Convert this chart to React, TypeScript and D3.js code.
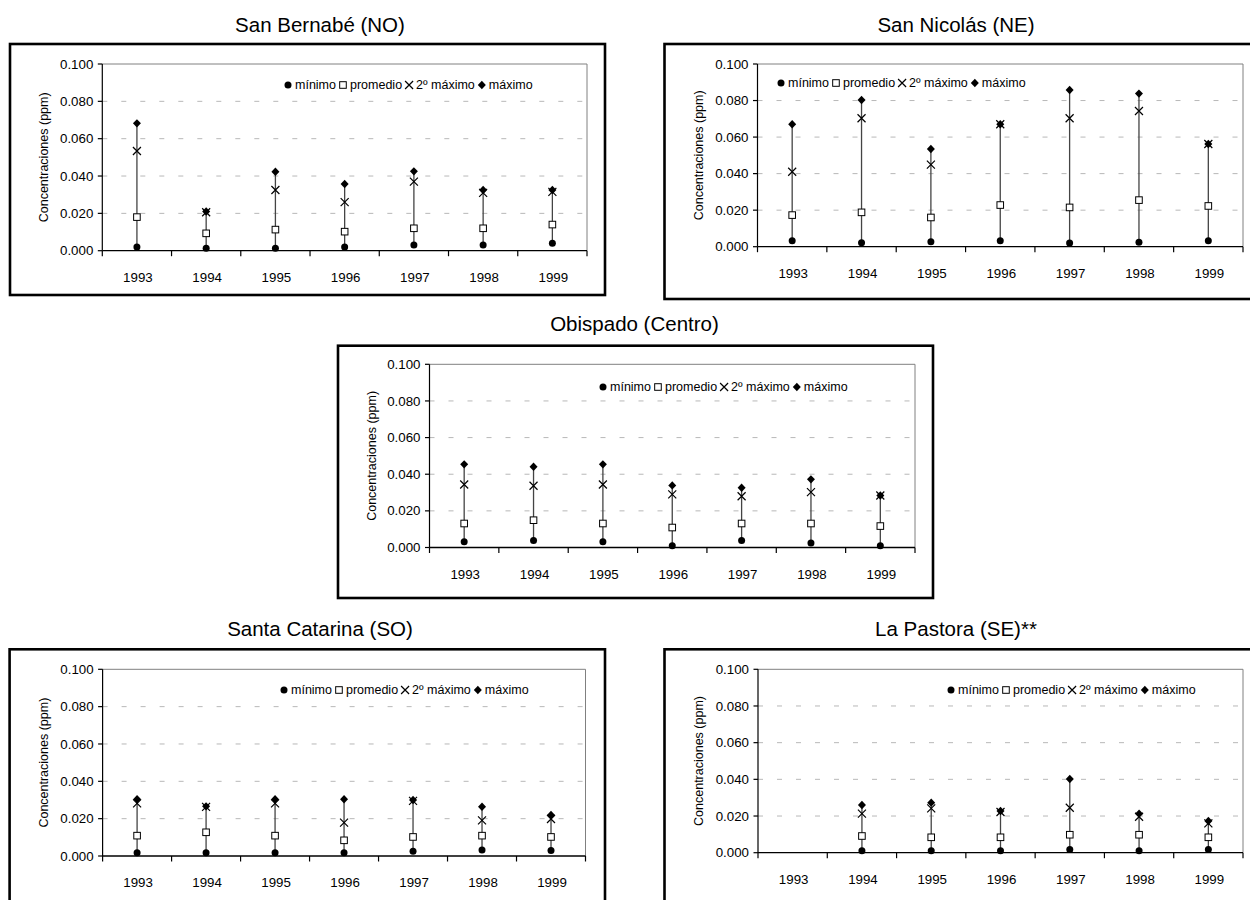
import React from "react";
import * as d3 from "d3";

const years = ["1993", "1994", "1995", "1996", "1997", "1998", "1999"];
const yTicks = [0, 0.02, 0.04, 0.06, 0.08, 0.1];
const legendLabels = ["mínimo", "promedio", "2º máximo", "máximo"];
const stationNames = ["San Bernabé (NO)", "San Nicolás (NE)", "Obispado (Centro)", "Santa Catarina (SO)", "La Pastora (SE)**"];

// San Bernabé (NO)
const sbMin = [0.002, 0.0013, 0.0013, 0.002, 0.003, 0.003, 0.004];
const sbProm = [0.018, 0.0093, 0.0113, 0.0102, 0.012, 0.012, 0.014];
const sb2Max = [0.0534, 0.0206, 0.0325, 0.026, 0.037, 0.031, 0.0315];
const sbMax = [0.0682, 0.021, 0.0423, 0.0357, 0.0425, 0.0325, 0.0325];

// San Nicolás (NE)
const snMin = [0.0033, 0.0022, 0.0027, 0.0033, 0.002, 0.0025, 0.0033];
const snProm = [0.0173, 0.0188, 0.016, 0.0228, 0.0215, 0.0255, 0.0223];
const sn2Max = [0.041, 0.0703, 0.0449, 0.067, 0.0703, 0.0743, 0.0562];
const snMax = [0.067, 0.0803, 0.0535, 0.067, 0.0858, 0.0838, 0.0562];

// Obispado (Centro)
const obMin = [0.0031, 0.0038, 0.0031, 0.0009, 0.0038, 0.0024, 0.0009];
const obProm = [0.0131, 0.0149, 0.0131, 0.0109, 0.0131, 0.0131, 0.0117];
const ob2Max = [0.0344, 0.0337, 0.0344, 0.029, 0.028, 0.0302, 0.0284];
const obMax = [0.0454, 0.0441, 0.0454, 0.0339, 0.0326, 0.0372, 0.0284];

// Santa Catarina (SO)
const scMin = [0.0018, 0.0018, 0.0018, 0.0018, 0.0025, 0.0032, 0.003];
const scProm = [0.0109, 0.0127, 0.0109, 0.0084, 0.0102, 0.0109, 0.0102];
const sc2Max = [0.0282, 0.0263, 0.0282, 0.0179, 0.0295, 0.0191, 0.0198];
const scMax = [0.0304, 0.0266, 0.0304, 0.0304, 0.03, 0.0264, 0.022];

// La Pastora (SE)**
const lpMin = [null, 0.0011, 0.0011, 0.0011, 0.0018, 0.0011, 0.0018];
const lpProm = [null, 0.0091, 0.0084, 0.0084, 0.0098, 0.0098, 0.0084];
const lp2Max = [null, 0.0213, 0.0242, 0.0222, 0.0245, 0.0196, 0.016];
const lpMax = [null, 0.026, 0.0273, 0.0227, 0.0402, 0.0213, 0.0173];

type Panel = {
  name: string;
  min: (number | null)[];
  prom: (number | null)[];
  max2: (number | null)[];
  max: (number | null)[];
  frame: [number, number, number, number];
  plot: [number, number, number, number];
  title: [number, number];
  legend: [number, number];
};

const panels: Panel[] = [
  { name: stationNames[0], min: sbMin, prom: sbProm, max2: sb2Max, max: sbMax,
    frame: [10, 44, 605, 295], plot: [102.3, 64, 587, 250.7], title: [320, 32], legend: [288, 85] },
  { name: stationNames[1], min: snMin, prom: snProm, max2: sn2Max, max: snMax,
    frame: [664.5, 44, 1262, 299], plot: [757.5, 64, 1243, 246.7], title: [956, 32], legend: [781, 83] },
  { name: stationNames[2], min: obMin, prom: obProm, max2: ob2Max, max: obMax,
    frame: [338, 345.7, 933, 598], plot: [429.5, 364.3, 915, 547.5], title: [634.5, 331], legend: [603, 387] },
  { name: stationNames[3], min: scMin, prom: scProm, max2: sc2Max, max: scMax,
    frame: [9.6, 649.3, 605, 915], plot: [102.6, 669.3, 585.5, 856], title: [320, 636], legend: [284, 690] },
  { name: stationNames[4], min: lpMin, prom: lpProm, max2: lp2Max, max: lpMax,
    frame: [664.5, 649.3, 1262, 915], plot: [758, 669.3, 1243, 852.7], title: [956, 636], legend: [951, 690] },
];

const FONT = "'Liberation Sans', Arial, sans-serif";
const LEG_FS = 12.5;

let measureCtx: CanvasRenderingContext2D | null = null;
function textWidth(t: string, size: number) {
  if (!measureCtx) {
    const c = document.createElement("canvas");
    measureCtx = c.getContext("2d");
  }
  if (!measureCtx) return t.length * size * 0.55;
  measureCtx.font = `${size}px ${FONT}`;
  return measureCtx.measureText(t).width;
}

function Marker({ kind, x, y }: { kind: number; x: number; y: number }) {
  if (kind === 0) return <circle cx={x} cy={y} r={3.5} fill="#000" />;
  if (kind === 1)
    return <rect x={x - 3.3} y={y - 3.3} width={6.6} height={6.6} fill="#fff" stroke="#000" strokeWidth={1} />;
  if (kind === 2)
    return (
      <path d={`M${x - 4},${y - 4}L${x + 4},${y + 4}M${x - 4},${y + 4}L${x + 4},${y - 4}`} stroke="#000" strokeWidth={1.2} fill="none" />
    );
  return <path d={`M${x},${y - 4.2}L${x + 4},${y}L${x},${y + 4.2}L${x - 4},${y}Z`} fill="#000" />;
}

function Legend({ x, y }: { x: number; y: number }) {
  let cx = x;
  const items: React.ReactNode[] = [];
  legendLabels.forEach((lab, i) => {
    items.push(<Marker key={"m" + i} kind={i} x={cx} y={y} />);
    items.push(
      <text key={"t" + i} x={cx + 7} y={y + 4.3} fontSize={LEG_FS} fontFamily={FONT} fill="#000">
        {lab}
      </text>
    );
    cx += 7 + textWidth(lab, LEG_FS) + 7;
  });
  return <g>{items}</g>;
}

function ChartPanel({ p }: { p: Panel }) {
  const [fx0, fy0, fx1, fy1] = p.frame;
  const [px0, py0, px1, py1] = p.plot;
  const x = d3.scaleBand<string>().domain(years).range([px0, px1]);
  const y = d3.scaleLinear().domain([0, 0.1]).range([py1, py0]);
  const bw = x.bandwidth();
  return (
    <g>
      <rect x={fx0} y={fy0} width={fx1 - fx0} height={fy1 - fy0} fill="#fff" stroke="#000" strokeWidth={2.6} />
      <text x={p.title[0]} y={p.title[1]} textAnchor="middle" fontSize={20.5} fontFamily={FONT} fill="#000">
        {p.name}
      </text>
      {yTicks.filter((t) => t > 0 && t < 0.1).map((t) => (
        <line key={t} x1={px0} x2={px1} y1={y(t)} y2={y(t)} stroke="#b8b8b8" strokeWidth={1} strokeDasharray="5,14" />
      ))}
      <path d={`M${px0},${y(0.1)}H${px1}V${py1}`} fill="none" stroke="#808080" strokeWidth={1} />
      <line x1={px0} x2={px0} y1={py0} y2={py1} stroke="#000" strokeWidth={1.2} />
      {yTicks.map((t) => (
        <g key={"yt" + t}>
          <line x1={px0 - 4.5} x2={px0} y1={y(t)} y2={y(t)} stroke="#000" strokeWidth={1.2} />
          <text x={px0 - 9} y={y(t) + 4.6} textAnchor="end" fontSize={13.3} fontFamily={FONT} fill="#000">
            {d3.format(".3f")(t)}
          </text>
        </g>
      ))}
      <line x1={px0} x2={px1} y1={py1} y2={py1} stroke="#000" strokeWidth={1.3} />
      {years.map((yr, i) => (
        <g key={"xt" + yr}>
          <line x1={(x(yr) as number) + bw} x2={(x(yr) as number) + bw} y1={py1} y2={py1 + 5.5} stroke="#000" strokeWidth={1.2} />
          {i === 0 && <line x1={px0} x2={px0} y1={py1} y2={py1 + 5.5} stroke="#000" strokeWidth={1.2} />}
          <text x={(x(yr) as number) + bw / 2 + 1} y={py1 + 31} textAnchor="middle" fontSize={13.3} fontFamily={FONT} fill="#000">
            {yr}
          </text>
        </g>
      ))}
      <text
        transform={`translate(${fx0 + 34},${(py0 + py1) / 2}) rotate(-90)`}
        textAnchor="middle"
        fontSize={12.5}
        fontFamily={FONT}
        fill="#000"
        dy="0.35em"
      >
        Concentraciones (ppm)
      </text>
      {years.map((yr, i) => {
        const lo = p.min[i];
        const hi = p.max[i];
        if (lo == null || hi == null) return null;
        const cx = (x(yr) as number) + bw / 2;
        const series = [p.min[i], p.prom[i], p.max2[i], p.max[i]];
        return (
          <g key={"d" + yr}>
            <line x1={cx} x2={cx} y1={y(lo)} y2={y(hi)} stroke="#444" strokeWidth={1.3} />
            {series.map((v, k) => (v == null ? null : <Marker key={k} kind={k} x={cx} y={y(v)} />))}
          </g>
        );
      })}
      <Legend x={p.legend[0]} y={p.legend[1]} />
    </g>
  );
}

export default function App() {
  return (
    <svg width={1250} height={900} style={{ position: "absolute", left: 0, top: 0, background: "#fff" }}>
      <rect x={0} y={0} width={1250} height={900} fill="#fff" />
      {panels.map((p) => (
        <ChartPanel key={p.name} p={p} />
      ))}
    </svg>
  );
}
